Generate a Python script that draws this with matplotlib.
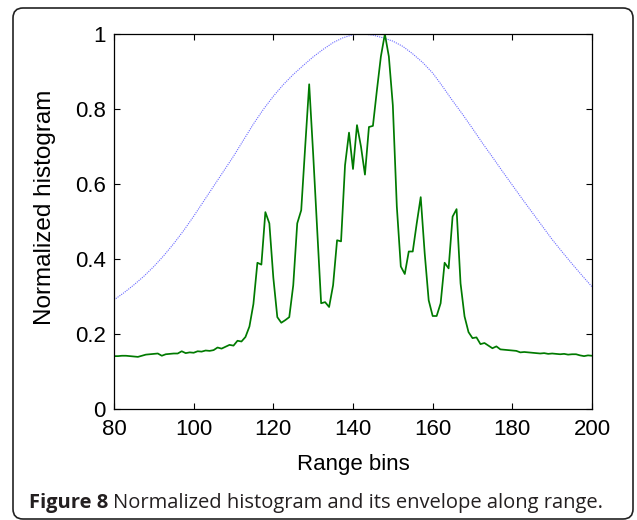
import numpy as np
import matplotlib
matplotlib.use("Agg")
import matplotlib.pyplot as plt
from matplotlib.patches import FancyBboxPatch
from matplotlib.transforms import IdentityTransform

# histograma normalizado, um valor por bin (80..200)
bins = np.arange(80, 201)
hist = [
    0.141, 0.141, 0.142, 0.142, 0.141, 0.140, 0.139, 0.142, 0.145, 0.146,   # 80-89
    0.147, 0.148, 0.142, 0.146, 0.147, 0.148, 0.148, 0.154, 0.149, 0.151,   # 90-99
    0.150, 0.154, 0.153, 0.156, 0.155, 0.157, 0.164, 0.161, 0.166, 0.171,   # 100-109
    0.169, 0.182, 0.180, 0.192, 0.220, 0.280, 0.390, 0.385, 0.525, 0.495,   # 110-119
    0.350, 0.245, 0.230, 0.237, 0.245, 0.330, 0.495, 0.530, 0.700, 0.866,   # 120-129
    0.680, 0.480, 0.282, 0.285, 0.272, 0.330, 0.450, 0.447, 0.650, 0.737,   # 130-139
    0.640, 0.757, 0.700, 0.625, 0.752, 0.755, 0.850, 0.940, 1.000, 0.940,   # 140-149
    0.810, 0.540, 0.380, 0.360, 0.420, 0.420, 0.495, 0.565, 0.415, 0.290,   # 150-159
    0.248, 0.248, 0.282, 0.390, 0.375, 0.513, 0.533, 0.335, 0.247, 0.205,   # 160-169
    0.189, 0.191, 0.173, 0.176, 0.169, 0.162, 0.167, 0.159, 0.158, 0.157,   # 170-179
    0.156, 0.155, 0.151, 0.152, 0.151, 0.150, 0.149, 0.148, 0.149, 0.147,   # 180-189
    0.148, 0.147, 0.146, 0.147, 0.145, 0.146, 0.146, 0.143, 0.141, 0.143,   # 190-199
    0.142,                                                                   # 200
]

# envelope (lido a cada 2.5 bins)
env_x = np.arange(80, 200.1, 2.5)
env_y = [0.291, 0.310, 0.331, 0.354, 0.380, 0.409, 0.441, 0.476, 0.514, 0.554,
         0.594, 0.634, 0.674, 0.717, 0.760, 0.799, 0.834, 0.865, 0.892, 0.916,
         0.939, 0.959, 0.977, 0.990, 0.998, 1.000, 0.997, 0.990, 0.981, 0.967,
         0.947, 0.924, 0.896, 0.860, 0.822, 0.786, 0.748, 0.709, 0.672, 0.634,
         0.597, 0.560, 0.524, 0.488, 0.452, 0.419, 0.387, 0.356, 0.326]

fig = plt.figure(figsize=(6.37, 5.20), dpi=100)
ax = fig.add_axes([114 / 637, 111 / 520, 478 / 637, 375 / 520])

ax.plot(env_x, env_y, linestyle=(0, (1, 1)), color="#6a6aff", linewidth=0.8)
ax.plot(bins, hist, color="#007a00", linewidth=1.25)

ax.set_xlim(80, 200)
ax.set_ylim(0, 1)
ax.set_xticks(range(80, 201, 20))
ax.set_yticks([0, 0.2, 0.4, 0.6, 0.8, 1])
ax.set_yticklabels(["0", "0.2", "0.4", "0.6", "0.8", "1"])
ax.tick_params(direction="in", top=True, right=True, length=4, width=0.8,
               labelsize=16)
ax.tick_params(axis="x", pad=7)
ax.tick_params(axis="y", pad=6)
for lab in ax.get_xticklabels() + ax.get_yticklabels():
    lab.set_family("Liberation Sans")
for s in ax.spines.values():
    s.set_linewidth(0.9)

ax.set_xlabel("Range bins", family="Liberation Sans", fontsize=16)
ax.xaxis.label.set_va("baseline")
ax.xaxis.set_label_coords(353 / 637, 1 - 470 / 520, transform=fig.transFigure)
ax.set_ylabel("Normalized histogram", family="Liberation Sans", fontsize=17.5)
ax.yaxis.label.set_va("center")
ax.yaxis.set_label_coords(45 / 637, 1 - 207 / 520, transform=fig.transFigure)

# moldura arredondada
box = FancyBboxPatch((13, 1), 620, 511, boxstyle="round,pad=0,rounding_size=10",
                     transform=IdentityTransform(), facecolor="none",
                     edgecolor="#222222", linewidth=1.2)
fig.add_artist(box)

# legenda da figura
t1 = fig.text(29 / 637, 1 - 508 / 520, "Figure 8", family="Open Sans", weight="bold",
              fontsize=14.5, color="#231f20")
fig.canvas.draw()
bb = t1.get_window_extent()
fig.text((bb.x1 + 5) / 637, 1 - 508 / 520, "Normalized histogram and its envelope along range.",
         family="Open Sans", fontsize=14.5, color="#231f20")

fig.savefig("out.png", dpi=100)
